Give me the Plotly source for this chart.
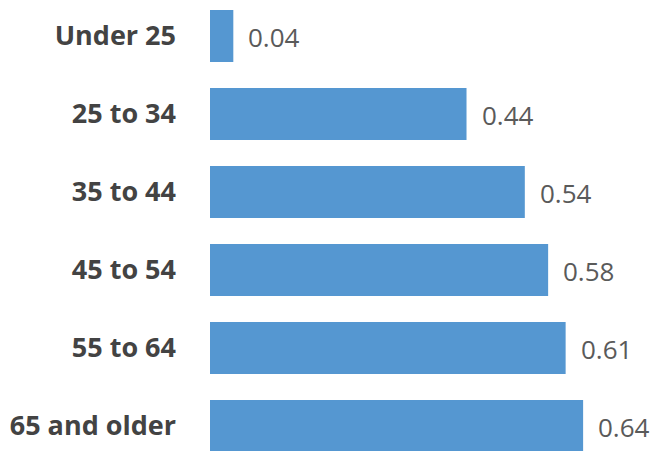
import plotly.graph_objects as go

categories = ["Under 25", "25 to 34", "35 to 44", "45 to 54", "55 to 64", "65 and older"]
values = [0.04, 0.44, 0.54, 0.58, 0.61, 0.64]
value_labels = ["0.04", "0.44", "0.54", "0.58", "0.61", "0.64"]

W, H = 655, 451
fig = go.Figure()
fig.add_trace(go.Bar(
    x=values, y=categories, orientation="h",
    marker=dict(color="#5597D1", line=dict(width=0)),
    hoverinfo="skip",
))

for v, c, t in zip(values, categories, value_labels):
    fig.add_annotation(
        x=v, y=c, text=t, showarrow=False, xanchor="left", yanchor="middle",
        xshift=13, yshift=-1,
        font=dict(family="Open Sans", size=26, color="#5a5a5a"),
    )

fig.update_layout(
    width=W, height=H,
    margin=dict(l=210, r=0, t=0, b=0),
    paper_bgcolor="white", plot_bgcolor="white",
    bargap=0.333,
    showlegend=False,
    xaxis=dict(range=[0, 445 / 583], visible=False, fixedrange=True),
    yaxis=dict(
        type="category",
        range=[5.3205, -0.4615],
        showgrid=False, zeroline=False, showline=False,
        ticks="", ticklabelstandoff=33,
        tickfont=dict(family="Open Sans", size=27, color="#434343", weight="bold"),
    ),
)

fig.write_html("out.html")
